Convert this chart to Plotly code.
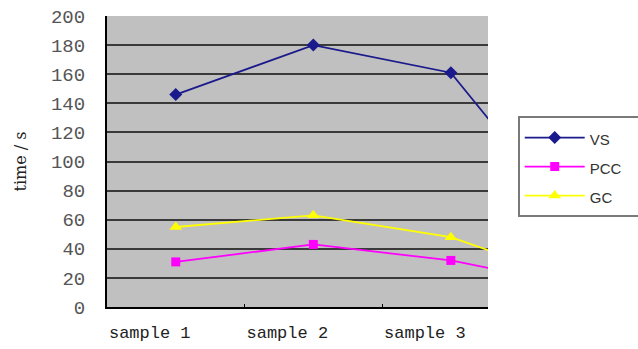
import plotly.graph_objects as go

# Category labels (the fourth sample lies beyond the visible x range)
samples = ["sample 1", "sample 2", "sample 3", "sample 4"]

# Measured times in seconds
vs_time = [146, 180, 161, 45]
pcc_time = [31, 43, 32, 13]
gc_time = [55, 63, 48, 15]

y_ticks = [0, 20, 40, 60, 80, 100, 120, 140, 160, 180, 200]

series = [
    ("VS", vs_time, "#1a1a8c", "diamond", 10),
    ("PCC", pcc_time, "#ff00ff", "square", 9),
    ("GC", gc_time, "#ffff00", "triangle-up", 11),
]

# trailing non-breaking spaces widen the legend box
PAD = "\u00a0" * 4

fig = go.Figure()
for name, values, color, symbol, msize in series:
    fig.add_trace(go.Scatter(
        x=samples,
        y=values,
        mode="lines+markers",
        name=f'<span style="font-size:15px">{name}{PAD}</span>',
        line=dict(color=color, width=1.8),
        marker=dict(symbol=symbol, size=msize, color=color),
        cliponaxis=True,
    ))

fig.update_layout(
    width=638,
    height=349,
    margin=dict(l=107, r=150, t=16, b=42, autoexpand=False),
    paper_bgcolor="white",
    plot_bgcolor="#c0c0c0",
    showlegend=True,
    legend=dict(
        x=1.078, y=0.656, xanchor="left", yanchor="top",
        bgcolor="white",
        bordercolor="#7a7a7a",
        borderwidth=2,
        font=dict(family="Liberation Sans", size=20, color="#333333"),
        itemwidth=60,
        tracegroupgap=0,
    ),
    xaxis=dict(
        type="category",
        categoryorder="array",
        categoryarray=samples,
        range=[-0.5, 2.27],
        automargin=False,
        showgrid=False,
        zeroline=False,
        showline=True,
        linecolor="black",
        linewidth=2,
        ticks="inside",
        tickson="boundaries",
        ticklen=3,
        tickcolor="black",
        tickfont=dict(family="Liberation Mono", size=17, color="#222222"),
        ticklabelshift=-26,
        ticklabelstandoff=9,
    ),
    yaxis=dict(
        range=[0, 200],
        tickvals=y_ticks,
        automargin=False,
        showgrid=True,
        gridcolor="#3a3a3a",
        gridwidth=2,
        zeroline=False,
        showline=True,
        linecolor="black",
        linewidth=2,
        ticks="",
        tickfont=dict(family="Liberation Mono", size=19, color="#555555"),
        ticklabelstandoff=16,
        title=dict(
            text="time / s",
            font=dict(family="DejaVu Serif", size=16, color="#222222"),
            standoff=20,
        ),
    ),
)

fig.write_html("out.html")
